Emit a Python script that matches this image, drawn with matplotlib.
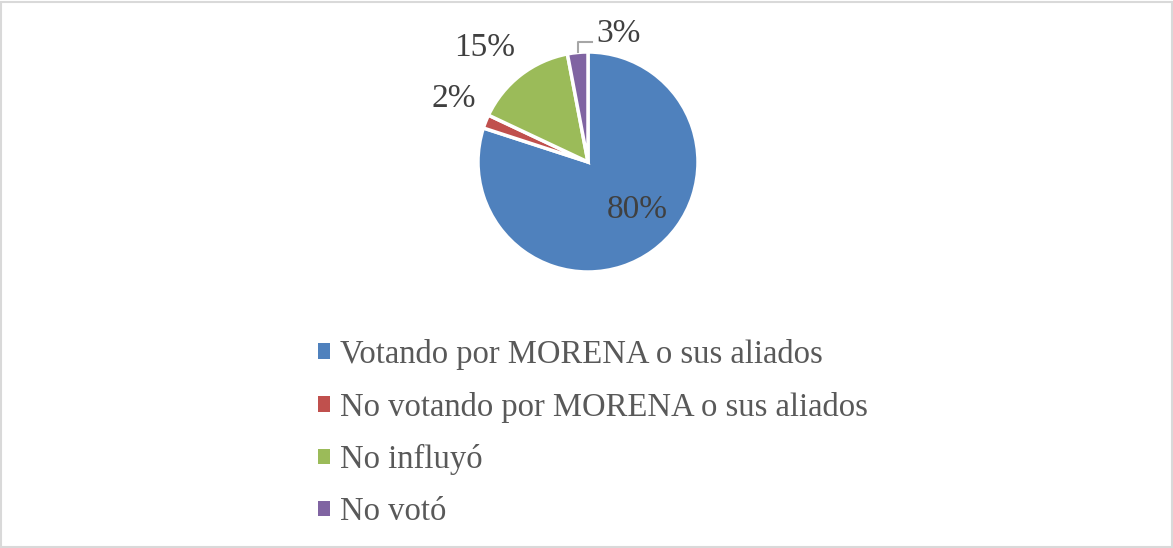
import matplotlib
matplotlib.use("Agg")
import matplotlib.pyplot as plt
import numpy as np
from matplotlib.patches import Patch

labels = ["Votando por MORENA o sus aliados", "No votando por MORENA o sus aliados",
          "No influyó", "No votó"]
values = [80, 2, 15, 3]
colors = ["#4f81bd", "#c0504d", "#9bbb59", "#8064a2"]
# label placement: (radius, angle in degrees) in pie units
label_pos = [(0.62, -44), (1.35, 155), (1.40, 132), (1.20, 76)]

W, H = 1173, 548
INK = "#404040"
LEG = "#595959"
plt.rcParams["font.family"] = ["Liberation Serif", "DejaVu Serif"]

fig = plt.figure(figsize=(W / 100, H / 100), dpi=100)
fig.patch.set_facecolor("white")

cx, cy, r = 588, 162, 110
ax = fig.add_axes([(cx - r) / W, (H - cy - r) / H, 2 * r / W, 2 * r / H])
wedges, _ = ax.pie(values, colors=colors, startangle=90, counterclock=False,
                   radius=1, wedgeprops=dict(edgecolor="white", linewidth=2.5))
ax.set_xlim(-1, 1)
ax.set_ylim(-1, 1)
ax.set_aspect("equal")
ax.axis("off")

for v, (rad, ang) in zip(values, label_pos):
    x, y = rad * np.cos(np.radians(ang)), rad * np.sin(np.radians(ang))
    if v == 3:
        ax.text(0.08, y, f"{v}%", fontsize=24, color=INK, ha="left", va="center")
    else:
        ax.text(x, y, f"{v}%", fontsize=24, color=INK, ha="center", va="center")

# elbow leader line for the 3% slice
w = wedges[3]
mid = np.radians((w.theta1 + w.theta2) / 2)
x0, y0 = np.cos(mid), np.sin(mid)
ax.plot([x0, x0, 0.04], [y0, 1.09, 1.09], color="#a6a6a6", linewidth=1.5,
        clip_on=False)

handles = [Patch(facecolor=c, edgecolor="none") for c in colors]
leg = fig.legend(handles, labels, loc="upper left",
                 bbox_to_anchor=(318 / W, 1 - 339 / H), frameon=False,
                 fontsize=23.5, handlelength=0.37, handleheight=0.37,
                 handletextpad=0.3, labelspacing=0.66, borderpad=0,
                 borderaxespad=0)
for t in leg.get_texts():
    t.set_color(LEG)

# light grey chart-area border
fig.add_artist(plt.Rectangle((1 / W, 1 / H), 1 - 2.5 / W, 1 - 2.5 / H,
                             transform=fig.transFigure, fill=False,
                             edgecolor="#d9d9d9", linewidth=1.5))

fig.savefig("out.png", dpi=100, facecolor="white")
